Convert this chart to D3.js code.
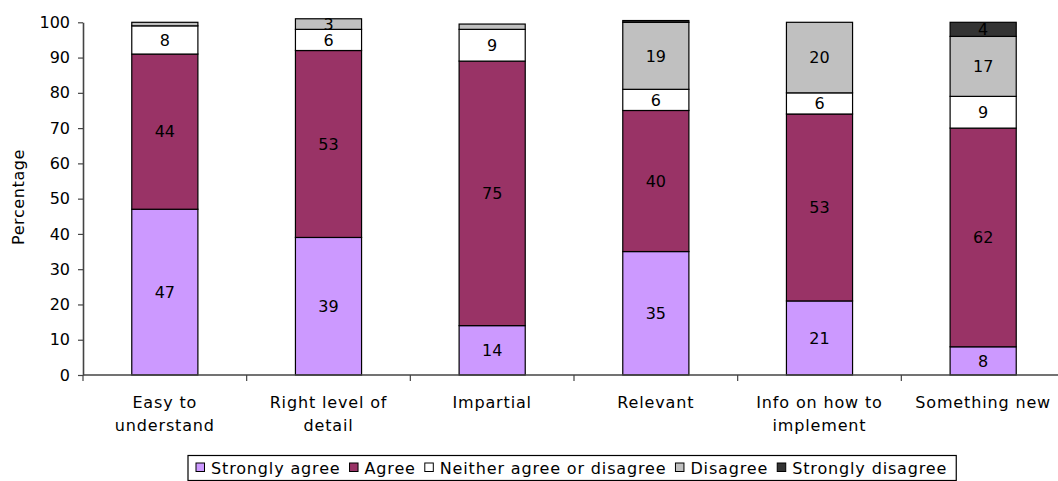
<!DOCTYPE html>
<html>
<head>
<meta charset="utf-8">
<script src="https://cdn.jsdelivr.net/npm/d3@7"></script>
<style>
  html, body { margin: 0; padding: 0; background: #fff; }
  svg { display: block; font-family: "DejaVu Sans", Verdana, sans-serif; }
</style>
</head>
<body>
<svg id="chart" width="1058" height="481"></svg>
<script>
// Survey responses (percent of respondents) per statement
const categories = ["Easy to\nunderstand", "Right level of\ndetail", "Impartial", "Relevant", "Info on how to\nimplement", "Something new"];
const seriesNames = ["Strongly agree", "Agree", "Neither agree or disagree", "Disagree", "Strongly disagree"];
const stronglyAgree    = [47, 39, 14, 35, 21, 8];
const agree            = [44, 53, 75, 40, 53, 62];
const neither          = [8, 6, 9, 6, 6, 9];
const disagree         = [1, 3, 1.5, 19, 20, 17];
const stronglyDisagree = [0, 0, 0, 0.5, 0, 4];
const yTicks = [0, 10, 20, 30, 40, 50, 60, 70, 80, 90, 100];
const colors = ["#CC99FF", "#993366", "#FFFFFF", "#C0C0C0", "#333333"];

const seriesValues = [stronglyAgree, agree, neither, disagree, stronglyDisagree];
const rows = categories.map((c, i) => {
  const r = { category: c };
  seriesNames.forEach((s, k) => { r[s] = seriesValues[k][i]; });
  return r;
});

const svg = d3.select("#chart");
const plot = { left: 83, right: 1065, top: 22.3, bottom: 375 };
const wordSpacing = "0.85px"; // wider tracking for the word labels

const x = d3.scaleBand().domain(categories).range([plot.left, plot.right]).padding(0);
const y = d3.scaleLinear().domain([0, 100]).range([plot.bottom, plot.top]);
const barW = x.step() * 0.404;

const stacked = d3.stack().keys(seriesNames)(rows);

// bars
const layers = svg.append("g").selectAll("g")
  .data(stacked).join("g")
  .attr("fill", (d, i) => colors[i]);

layers.selectAll("rect")
  .data(d => d.filter(p => p[1] - p[0] > 0))
  .join("rect")
  .attr("x", d => x(d.data.category) + x.bandwidth() / 2 - barW / 2)
  .attr("width", barW)
  .attr("y", d => y(d[1]))
  .attr("height", d => y(d[0]) - y(d[1]))
  .attr("stroke", "#000")
  .attr("stroke-width", 1.2);

// value labels inside segments
layers.selectAll("text")
  .data(d => d.filter(p => p[1] - p[0] >= 3))
  .join("text")
  .attr("x", d => x(d.data.category) + x.bandwidth() / 2)
  .attr("y", d => y((d[0] + d[1]) / 2))
  .attr("text-anchor", "middle")
  .attr("dy", "0.36em")
  .attr("fill", "#000")
  .attr("font-size", 16)
  .text(d => d3.format(".0f")(d[1] - d[0]));

// y axis
const yAxis = svg.append("g")
  .attr("transform", `translate(${plot.left},0)`)
  .call(d3.axisLeft(y).tickValues(yTicks).tickSize(5).tickPadding(8).tickSizeOuter(0));
yAxis.select(".domain").attr("stroke", "#444").attr("stroke-width", 1.6);
yAxis.selectAll(".tick line").attr("stroke", "#444").attr("stroke-width", 1.2);
yAxis.selectAll(".tick text").attr("font-size", 16).attr("fill", "#000")
  .attr("font-family", "DejaVu Sans, Verdana, sans-serif");

// x axis: ticks on category boundaries
const xAxisG = svg.append("g").attr("transform", `translate(0,${plot.bottom})`);
xAxisG.append("line")
  .attr("x1", plot.left).attr("x2", plot.right)
  .attr("stroke", "#444").attr("stroke-width", 1.6);
const boundaries = categories.map(c => x(c)).concat([x(categories[categories.length - 1]) + x.step()]);
xAxisG.selectAll("line.tk").data(boundaries).join("line")
  .attr("class", "tk")
  .attr("x1", d => d).attr("x2", d => d)
  .attr("y1", 0).attr("y2", 6)
  .attr("stroke", "#444").attr("stroke-width", 1.2);

// category labels (two-line where wrapped)
const catLabels = svg.append("g").selectAll("text")
  .data(categories).join("text")
  .attr("x", c => x(c) + x.bandwidth() / 2)
  .attr("y", 408)
  .attr("text-anchor", "middle")
  .attr("font-size", 16)
  .attr("letter-spacing", wordSpacing)
  .attr("fill", "#000");
catLabels.selectAll("tspan")
  .data(c => c.split("\n").map(line => ({ line, cx: x(c) + x.bandwidth() / 2 })))
  .join("tspan")
  .attr("x", d => d.cx)
  .attr("dy", (d, i) => i === 0 ? 0 : 22.5)
  .text(d => d.line);

// y axis title
svg.append("text")
  .attr("transform", "translate(24,197) rotate(-90)")
  .attr("text-anchor", "middle")
  .attr("font-size", 16)
  .attr("letter-spacing", "0.6px")
  .attr("fill", "#000")
  .text("Percentage");

// legend
const legend = svg.append("g");
const legendBox = legend.append("rect")
  .attr("fill", "#fff").attr("stroke", "#000").attr("stroke-width", 1.2);
let cursor = 196;
const legendY = 474;
seriesNames.forEach((name, i) => {
  legend.append("rect")
    .attr("x", cursor).attr("y", legendY - 11)
    .attr("width", 8.5).attr("height", 8.5)
    .attr("fill", colors[i]).attr("stroke", "#000").attr("stroke-width", 1);
  const t = legend.append("text")
    .attr("x", cursor + 15).attr("y", legendY)
    .attr("font-size", 16).attr("letter-spacing", wordSpacing).attr("fill", "#000")
    .text(name);
  cursor += 15 + t.node().getComputedTextLength() + 9;
});
legendBox.attr("x", 188).attr("y", 455.5)
  .attr("width", cursor - 188).attr("height", 25);
</script>
</body>
</html>
